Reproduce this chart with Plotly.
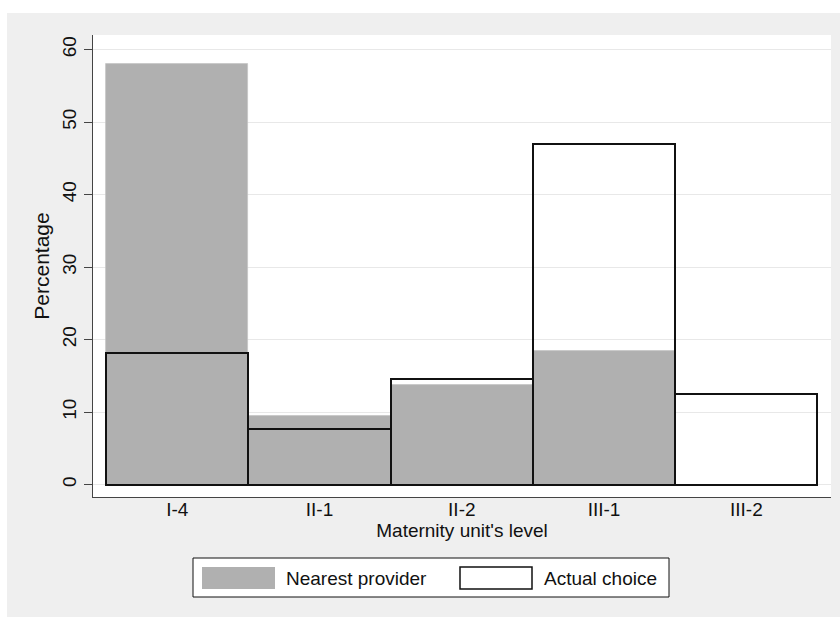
import plotly.graph_objects as go

# Share of births by maternity unit level
levels = ["I-4", "II-1", "II-2", "III-1", "III-2"]
nearest_provider = [58.0, 9.5, 13.75, 18.4, 0.0]
actual_choice = [18.2, 7.7, 14.5, 47.0, 12.5]
y_ticks = [0, 10, 20, 30, 40, 50, 60]

W, H = 840, 617
ML, MR, MT, MB = 93, 9, 35, 120
PW, PH = W - ML - MR, H - MT - MB

FONT = "Liberation Sans, Arial, Helvetica, sans-serif"
FS = 19
GRAY = "#b0b0b0"
BG = "#efefef"


def px_x(x):
    return (x - ML) / PW


def px_y(y):
    return (H - MB - y) / PH


fig = go.Figure()
fig.add_trace(go.Bar(
    x=list(range(len(levels))), y=nearest_provider, width=1,
    marker=dict(color=GRAY, line=dict(color="#c4c4c4", width=0.8)),
    name="Nearest provider", showlegend=False,
))
fig.add_trace(go.Bar(
    x=list(range(len(levels))), y=actual_choice, width=1,
    marker=dict(color="rgba(0,0,0,0)", line=dict(color="#111111", width=2)),
    name="Actual choice", showlegend=False,
))

shapes = [
    # white border strips around the graph region
    dict(type="rect", xref="paper", yref="paper", x0=px_x(-5), x1=px_x(7),
         y0=px_y(H + 5), y1=px_y(-5), fillcolor="white", line=dict(width=0)),
    dict(type="rect", xref="paper", yref="paper", x0=px_x(-5), x1=px_x(W + 5),
         y0=px_y(13), y1=px_y(-5), fillcolor="white", line=dict(width=0)),
    # legend box and keys
    dict(type="rect", xref="paper", yref="paper", x0=px_x(193), x1=px_x(669),
         y0=px_y(597), y1=px_y(558), fillcolor="white",
         line=dict(color="#111111", width=1)),
    dict(type="rect", xref="paper", yref="paper", x0=px_x(202), x1=px_x(275),
         y0=px_y(589), y1=px_y(567), fillcolor=GRAY, line=dict(width=0)),
    dict(type="rect", xref="paper", yref="paper", x0=px_x(460), x1=px_x(532),
         y0=px_y(589), y1=px_y(567), fillcolor="white",
         line=dict(color="#111111", width=1.5)),
]

annotations = [
    dict(text="Nearest provider", xref="paper", yref="paper", x=px_x(284),
         y=px_y(578), xanchor="left", yanchor="middle", showarrow=False,
         font=dict(family=FONT, size=FS, color="#111111")),
    dict(text="Actual choice", xref="paper", yref="paper", x=px_x(542),
         y=px_y(578), xanchor="left", yanchor="middle", showarrow=False,
         font=dict(family=FONT, size=FS, color="#111111")),
]

fig.update_layout(
    width=W, height=H,
    margin=dict(l=ML, r=MR, t=MT, b=MB),
    paper_bgcolor=BG, plot_bgcolor="white",
    barmode="overlay", bargap=0,
    font=dict(family=FONT, size=FS, color="#111111"),
    shapes=shapes, annotations=annotations,
    showlegend=False,
)
fig.update_xaxes(
    range=[-0.592, 4.595],
    tickmode="array", tickvals=list(range(len(levels))), ticktext=levels,
    ticks="", showgrid=False, zeroline=False,
    showline=True, linecolor="#444444", linewidth=1,
    ticklabelstandoff=-5,
    title=dict(text="Maternity unit's level", standoff=0,
               font=dict(size=FS)),
    tickfont=dict(size=FS),
)
fig.update_yaxes(
    range=[-1.71, 62.0],
    tickmode="array", tickvals=y_ticks,
    ticks="outside", ticklen=8, tickcolor="#444444", tickwidth=1,
    tickangle=-90, showgrid=True, gridcolor="#e8e8e8", gridwidth=1,
    zeroline=False, showline=True, linecolor="#444444", linewidth=1,
    title=dict(text="Percentage", standoff=4, font=dict(size=21)),
    tickfont=dict(size=FS),
)

fig.write_html("out.html")
